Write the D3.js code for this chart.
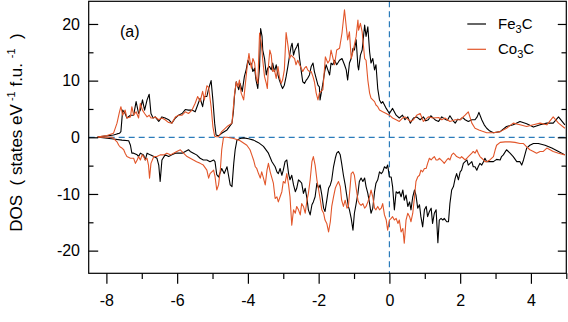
<!DOCTYPE html>
<html><head><meta charset="utf-8">
<script src="https://cdn.jsdelivr.net/npm/d3@7"></script>
<style>
body{margin:0;background:#fff;}
svg{display:block;font-family:"Liberation Sans",Arial,Helvetica,sans-serif;}
</style></head>
<body><svg id="c" width="568" height="322"></svg>
<script>
const xMajor=[-8,-6,-4,-2,0,2,4];
const xMinor=[-7,-5,-3,-1,1,3,5];
const yMajor=[-20,-10,0,10,20];
const yMinor=[-15,-5,5,15];
const seriesNames=["Fe3C","Co3C"];
const seriesColors=["#000000","#e2562a"];

const fe3cUp=[[-8.25,0],[-8.22,0.1],[-7.98,0.25],[-7.80,0.4],[-7.70,0.6],[-7.63,0.7],[-7.59,1.0],[-7.54,4.8],[-7.47,4.2],[-7.42,3.4],[-7.32,3.9],[-7.28,3.9],[-7.23,3.9],[-7.16,6.3],[-7.09,4.2],[-7.04,4.8],[-6.98,6.6],[-6.92,4.8],[-6.85,6.6],[-6.79,7.6],[-6.74,4.2],[-6.68,3.4],[-6.62,3.6],[-6.52,2.8],[-6.43,3.6],[-6.34,3.4],[-6.24,3.1],[-6.15,2.5],[-6.05,3.4],[-5.96,3.9],[-5.86,4.2],[-5.77,4.9],[-5.68,4.8],[-5.58,4.8],[-5.49,4.5],[-5.42,5.7],[-5.35,6.9],[-5.28,5.4],[-5.23,7.2],[-5.16,7.2],[-5.11,8.6],[-5.04,10.0],[-4.99,6.6],[-4.94,2.5],[-4.90,0.4],[-4.83,0.25],[-4.74,0.7],[-4.59,1.3],[-4.45,2.5],[-4.41,4.5],[-4.38,7.2],[-4.33,9.8],[-4.26,8.4],[-4.22,9.5],[-4.16,8.1],[-4.10,10.7],[-4.05,11.9],[-4.00,13.6],[-3.95,12.8],[-3.91,13.1],[-3.86,11.6],[-3.81,12.2],[-3.77,10.1],[-3.72,8.6],[-3.67,12.5],[-3.64,19.2],[-3.60,17.8],[-3.58,15.4],[-3.53,13.9],[-3.48,11.0],[-3.44,12.2],[-3.39,12.5],[-3.34,11.9],[-3.30,13.1],[-3.25,11.6],[-3.20,12.8],[-3.15,11.0],[-3.11,10.1],[-3.06,9.2],[-3.02,8.6],[-2.97,9.2],[-2.92,10.7],[-2.87,12.5],[-2.82,14.5],[-2.78,16.0],[-2.75,16.6],[-2.71,14.5],[-2.67,15.4],[-2.62,16.0],[-2.58,16.6],[-2.54,13.9],[-2.49,11.6],[-2.45,9.8],[-2.40,9.5],[-2.35,10.1],[-2.31,10.4],[-2.26,11.0],[-2.21,12.5],[-2.16,13.1],[-2.12,11.6],[-2.07,10.4],[-2.02,9.2],[-1.98,8.9],[-1.96,6.6],[-1.88,9.5],[-1.83,11.6],[-1.79,12.8],[-1.74,11.9],[-1.69,11.0],[-1.65,13.1],[-1.60,12.8],[-1.55,13.6],[-1.49,12.8],[-1.41,13.6],[-1.34,13.9],[-1.27,12.8],[-1.22,11.9],[-1.18,10.1],[-1.13,13.1],[-1.08,13.9],[-1.03,15.7],[-0.99,15.4],[-0.94,17.2],[-0.89,12.5],[-0.87,11.9],[-0.82,14.5],[-0.77,15.4],[-0.70,19.8],[-0.66,17.8],[-0.61,19.5],[-0.56,15.1],[-0.52,13.1],[-0.47,13.9],[-0.42,11.9],[-0.38,12.8],[-0.33,8.6],[-0.28,6.6],[-0.23,6.0],[-0.19,6.3],[-0.09,5.1],[0.0,4.2],[0.09,5.1],[0.19,3.9],[0.28,3.4],[0.37,3.9],[0.44,3.1],[0.52,3.6],[0.59,2.5],[0.68,3.4],[0.77,3.6],[0.87,3.1],[0.96,3.6],[1.03,2.9],[1.10,3.1],[1.17,3.8],[1.24,3.4],[1.31,3.0],[1.39,2.8],[1.48,3.6],[1.57,3.2],[1.64,3.0],[1.71,3.8],[1.79,3.0],[1.86,2.5],[1.93,3.2],[2.00,3.1],[2.07,3.5],[2.14,3.1],[2.23,2.8],[2.33,3.1],[2.42,3.1],[2.48,3.6],[2.53,4.4],[2.61,3.1],[2.68,2.2],[2.75,1.6],[2.84,1.1],[2.94,0.8],[3.13,1.0],[3.31,1.9],[3.50,2.2],[3.69,2.8],[3.88,2.4],[4.07,1.8],[4.26,2.2],[4.45,2.5],[4.63,2.5],[4.78,3.6],[4.96,2.2]];

const co3cUp=[[-8.25,0],[-8.22,0.1],[-7.98,0.3],[-7.80,0.7],[-7.70,2.5],[-7.63,4.5],[-7.59,5.4],[-7.54,3.9],[-7.47,4.8],[-7.42,3.4],[-7.32,3.6],[-7.28,5.4],[-7.23,3.9],[-7.16,4.5],[-7.09,3.4],[-7.04,6.0],[-6.98,4.8],[-6.92,4.2],[-6.85,3.6],[-6.79,3.9],[-6.74,3.4],[-6.68,3.4],[-6.62,3.6],[-6.52,3.1],[-6.43,3.4],[-6.34,3.1],[-6.24,2.6],[-6.15,2.5],[-6.05,3.6],[-5.96,3.9],[-5.86,3.9],[-5.77,4.5],[-5.68,4.2],[-5.58,4.8],[-5.49,6.0],[-5.42,7.2],[-5.35,6.3],[-5.28,8.1],[-5.23,6.6],[-5.16,9.1],[-5.11,8.8],[-5.04,5.4],[-4.99,1.9],[-4.94,0.2],[-4.90,0.1],[-4.83,0.1],[-4.74,1.0],[-4.59,1.9],[-4.45,2.5],[-4.38,7.5],[-4.33,9.8],[-4.28,8.9],[-4.24,10.1],[-4.19,7.8],[-4.12,6.6],[-4.07,9.5],[-4.02,12.5],[-3.97,14.8],[-3.94,13.4],[-3.90,12.2],[-3.86,13.9],[-3.81,13.1],[-3.77,10.7],[-3.72,9.5],[-3.67,18.4],[-3.62,16.6],[-3.58,13.6],[-3.53,10.7],[-3.48,9.5],[-3.45,8.6],[-3.42,12.5],[-3.38,15.4],[-3.34,14.5],[-3.30,11.6],[-3.25,11.9],[-3.20,10.4],[-3.15,12.5],[-3.11,10.7],[-3.06,9.5],[-3.02,10.1],[-2.97,11.9],[-2.92,18.5],[-2.87,16.3],[-2.82,13.9],[-2.78,14.5],[-2.73,14.2],[-2.68,13.9],[-2.64,12.8],[-2.59,13.6],[-2.54,12.8],[-2.49,12.2],[-2.45,11.6],[-2.40,12.2],[-2.35,12.5],[-2.31,11.9],[-2.26,11.6],[-2.21,11.6],[-2.16,10.7],[-2.12,9.8],[-2.07,7.8],[-2.02,6.6],[-1.98,7.8],[-1.88,8.4],[-1.81,14.2],[-1.74,13.1],[-1.69,13.6],[-1.65,15.4],[-1.55,12.8],[-1.49,15.4],[-1.41,15.7],[-1.34,18.4],[-1.27,22.5],[-1.22,19.5],[-1.18,17.2],[-1.13,18.6],[-1.08,13.9],[-1.03,15.1],[-0.94,17.8],[-0.89,20.7],[-0.87,18.9],[-0.82,20.1],[-0.77,18.6],[-0.70,13.9],[-0.66,13.6],[-0.61,10.1],[-0.56,7.8],[-0.52,6.9],[-0.47,6.6],[-0.42,6.3],[-0.38,5.7],[-0.33,5.4],[-0.28,4.8],[-0.19,4.5],[-0.09,4.2],[0.0,3.9],[0.09,3.4],[0.19,3.1],[0.28,2.8],[0.37,3.4],[0.44,3.6],[0.52,3.2],[0.59,2.8],[0.68,3.1],[0.77,3.9],[0.87,4.2],[0.96,2.8],[1.10,3.6],[1.24,3.4],[1.39,3.5],[1.48,3.1],[1.57,3.4],[1.71,2.8],[1.86,3.1],[2.00,3.1],[2.14,3.9],[2.23,4.5],[2.33,2.5],[2.42,1.6],[2.53,1.3],[2.61,1.1],[2.75,0.8],[2.94,0.8],[3.13,1.0],[3.31,1.6],[3.50,2.5],[3.69,2.2],[3.88,1.9],[4.07,2.2],[4.26,2.5],[4.45,2.2],[4.63,3.6],[4.78,2.5],[4.96,1.6]];

const fe3cDown=[[-8.25,0],[-8.22,0],[-7.80,-0.3],[-7.56,-0.5],[-7.37,-0.6],[-7.32,-1.4],[-7.28,-2.8],[-7.23,-2.8],[-7.13,-3.1],[-7.09,-3.4],[-7.04,-2.8],[-6.95,-3.1],[-6.90,-4.0],[-6.85,-2.8],[-6.76,-3.1],[-6.66,-3.4],[-6.57,-3.7],[-6.52,-4.9],[-6.48,-7.8],[-6.43,-4.0],[-6.34,-3.1],[-6.24,-3.4],[-6.15,-3.1],[-6.05,-2.8],[-5.96,-2.8],[-5.86,-2.8],[-5.77,-2.5],[-5.68,-2.2],[-5.63,-2.5],[-5.54,-2.8],[-5.45,-3.1],[-5.35,-3.7],[-5.26,-4.0],[-5.16,-4.0],[-5.07,-4.3],[-4.97,-4.0],[-4.93,-4.3],[-4.88,-6.6],[-4.83,-7.0],[-4.74,-5.5],[-4.67,-6.4],[-4.59,-5.2],[-4.50,-8.4],[-4.45,-8.7],[-4.40,-4.6],[-4.36,-2.2],[-4.31,-0.5],[-4.22,-0.2],[-4.12,-0.1],[-3.98,-0.25],[-3.84,-0.5],[-3.70,-0.95],[-3.56,-1.6],[-3.42,-2.8],[-3.32,-4.3],[-3.23,-5.2],[-3.18,-6.1],[-3.14,-6.4],[-3.09,-5.5],[-3.04,-6.7],[-3.00,-5.8],[-2.95,-4.3],[-2.90,-4.0],[-2.85,-6.4],[-2.81,-7.5],[-2.76,-6.7],[-2.71,-8.4],[-2.66,-9.6],[-2.62,-9.0],[-2.57,-7.5],[-2.52,-7.8],[-2.48,-8.1],[-2.43,-9.9],[-2.38,-9.0],[-2.33,-10.8],[-2.29,-12.8],[-2.24,-13.7],[-2.19,-11.9],[-2.15,-11.4],[-2.10,-10.5],[-2.05,-8.1],[-2.00,-9.0],[-1.96,-8.4],[-1.91,-10.2],[-1.86,-12.5],[-1.82,-13.1],[-1.77,-11.1],[-1.72,-9.0],[-1.67,-8.4],[-1.63,-7.5],[-1.58,-5.2],[-1.53,-3.7],[-1.49,-2.8],[-1.44,-2.5],[-1.39,-3.1],[-1.35,-4.6],[-1.30,-6.7],[-1.25,-8.4],[-1.20,-10.5],[-1.16,-12.2],[-1.13,-12.8],[-1.08,-14.3],[-1.03,-16.4],[-0.99,-13.4],[-0.94,-11.7],[-0.89,-9.9],[-0.85,-7.8],[-0.80,-7.2],[-0.75,-7.8],[-0.70,-7.2],[-0.66,-8.7],[-0.61,-9.9],[-0.56,-11.7],[-0.52,-13.4],[-0.47,-12.5],[-0.42,-9.6],[-0.38,-8.1],[-0.33,-7.5],[-0.28,-6.1],[-0.23,-6.4],[-0.19,-6.1],[-0.14,-5.2],[-0.09,-5.5],[-0.05,-4.9],[0.00,-7.0],[0.05,-7.0],[0.09,-8.7],[0.14,-12.8],[0.19,-9.6],[0.24,-9.9],[0.28,-9.6],[0.33,-10.5],[0.38,-9.3],[0.42,-11.1],[0.47,-10.2],[0.52,-12.2],[0.57,-11.4],[0.61,-12.8],[0.66,-10.5],[0.71,-9.3],[0.75,-10.2],[0.80,-12.5],[0.85,-11.9],[0.89,-14.0],[0.94,-15.8],[0.99,-12.8],[1.04,-12.2],[1.08,-14.0],[1.13,-13.1],[1.18,-12.5],[1.22,-15.2],[1.27,-13.4],[1.32,-12.8],[1.37,-18.6],[1.41,-14.6],[1.46,-14.3],[1.51,-14.6],[1.55,-14.3],[1.62,-14.9],[1.67,-14.9],[1.71,-11.7],[1.76,-9.3],[1.81,-8.7],[1.86,-7.2],[1.90,-6.4],[1.95,-7.5],[2.00,-6.1],[2.04,-5.8],[2.09,-4.6],[2.14,-4.3],[2.19,-4.0],[2.23,-4.9],[2.28,-4.6],[2.33,-4.3],[2.37,-5.2],[2.42,-5.2],[2.47,-5.8],[2.51,-5.2],[2.56,-4.6],[2.61,-4.9],[2.66,-4.3],[2.70,-3.7],[2.75,-4.3],[2.84,-4.3],[2.94,-4.3],[3.03,-3.9],[3.13,-4.0],[3.17,-3.4],[3.22,-3.1],[3.31,-2.2],[3.41,-2.8],[3.50,-3.4],[3.60,-4.3],[3.69,-4.3],[3.74,-4.9],[3.79,-4.0],[3.88,-1.9],[3.97,-1.4],[4.07,-1.1],[4.21,-1.1],[4.40,-1.4],[4.59,-1.9],[4.78,-2.5],[4.96,-3.1]];

const co3cDown=[[-8.25,0],[-8.22,0],[-7.84,0],[-7.80,-0.2],[-7.70,-0.8],[-7.65,-1.4],[-7.61,-1.7],[-7.56,-1.9],[-7.51,-2.2],[-7.47,-2.8],[-7.42,-3.4],[-7.32,-3.7],[-7.23,-3.7],[-7.18,-4.6],[-7.13,-4.0],[-7.09,-3.4],[-7.04,-4.0],[-6.99,-3.1],[-6.95,-3.4],[-6.90,-4.0],[-6.85,-3.7],[-6.81,-4.9],[-6.78,-7.2],[-6.74,-4.6],[-6.66,-3.4],[-6.57,-3.4],[-6.48,-3.1],[-6.38,-3.1],[-6.29,-2.8],[-6.19,-3.1],[-6.10,-2.8],[-6.01,-2.5],[-5.91,-2.2],[-5.82,-2.8],[-5.72,-3.4],[-5.63,-3.7],[-5.54,-4.0],[-5.45,-4.3],[-5.35,-4.6],[-5.26,-4.9],[-5.16,-5.8],[-5.11,-7.2],[-5.07,-6.4],[-5.02,-6.1],[-4.97,-5.8],[-4.93,-6.9],[-4.88,-9.3],[-4.83,-8.4],[-4.78,-5.8],[-4.74,-2.2],[-4.69,0],[-4.59,0],[-4.40,-0.2],[-4.22,-0.6],[-4.03,-1.4],[-3.94,-2.2],[-3.89,-3.1],[-3.84,-4.0],[-3.79,-5.2],[-3.75,-5.5],[-3.70,-6.4],[-3.65,-7.2],[-3.61,-6.1],[-3.56,-7.2],[-3.51,-8.4],[-3.46,-5.8],[-3.42,-4.6],[-3.37,-6.1],[-3.32,-7.2],[-3.28,-8.1],[-3.23,-10.8],[-3.18,-10.5],[-3.14,-11.4],[-3.09,-10.5],[-3.04,-9.6],[-3.00,-7.8],[-2.95,-8.1],[-2.90,-6.4],[-2.85,-8.4],[-2.81,-10.5],[-2.76,-15.5],[-2.71,-12.8],[-2.66,-13.4],[-2.62,-12.2],[-2.57,-12.8],[-2.52,-13.7],[-2.48,-11.7],[-2.43,-12.2],[-2.38,-13.4],[-2.33,-11.1],[-2.29,-9.9],[-2.24,-7.5],[-2.19,-4.3],[-2.15,-3.4],[-2.10,-4.9],[-2.05,-7.5],[-2.00,-9.3],[-1.96,-10.8],[-1.91,-12.8],[-1.86,-13.4],[-1.82,-14.6],[-1.77,-15.2],[-1.72,-16.7],[-1.67,-14.9],[-1.63,-12.2],[-1.58,-10.5],[-1.53,-9.0],[-1.49,-8.4],[-1.44,-7.8],[-1.39,-8.7],[-1.35,-11.1],[-1.30,-12.2],[-1.25,-11.1],[-1.20,-12.5],[-1.16,-12.2],[-1.11,-8.7],[-1.08,-6.4],[-1.03,-6.1],[-0.99,-6.7],[-0.94,-9.0],[-0.89,-11.1],[-0.85,-11.7],[-0.80,-12.0],[-0.75,-11.7],[-0.70,-12.5],[-0.66,-12.2],[-0.61,-11.4],[-0.56,-10.5],[-0.52,-9.3],[-0.47,-10.5],[-0.42,-12.5],[-0.38,-12.8],[-0.33,-12.2],[-0.28,-12.8],[-0.23,-12.5],[-0.19,-11.7],[-0.14,-13.7],[-0.09,-14.6],[-0.05,-16.4],[0.00,-14.6],[0.05,-14.3],[0.09,-14.0],[0.14,-14.6],[0.19,-14.3],[0.24,-15.2],[0.28,-14.6],[0.33,-16.7],[0.38,-16.1],[0.42,-18.7],[0.47,-14.6],[0.52,-13.4],[0.57,-14.0],[0.61,-14.9],[0.66,-13.4],[0.71,-10.5],[0.75,-7.8],[0.80,-7.0],[0.85,-6.7],[0.89,-5.8],[0.94,-6.1],[0.99,-5.5],[1.04,-5.5],[1.08,-4.6],[1.13,-3.7],[1.18,-4.0],[1.22,-3.7],[1.27,-3.4],[1.32,-4.0],[1.37,-4.0],[1.41,-3.7],[1.46,-4.0],[1.51,-4.3],[1.55,-4.6],[1.62,-4.0],[1.67,-3.7],[1.71,-4.0],[1.76,-3.1],[1.81,-2.8],[1.86,-3.1],[1.90,-3.4],[2.00,-3.7],[2.04,-3.4],[2.09,-3.7],[2.14,-4.0],[2.19,-3.7],[2.23,-3.4],[2.28,-3.1],[2.33,-2.8],[2.37,-2.5],[2.42,-2.8],[2.47,-2.2],[2.51,-2.8],[2.56,-3.4],[2.61,-3.7],[2.66,-4.0],[2.70,-4.3],[2.75,-4.3],[2.84,-4.0],[2.94,-3.4],[2.99,-2.2],[3.03,-1.4],[3.13,-0.9],[3.27,-0.8],[3.41,-0.8],[3.55,-0.9],[3.69,-1.1],[3.79,-1.1],[3.88,-1.7],[3.97,-2.2],[4.07,-2.5],[4.16,-2.8],[4.26,-2.5],[4.35,-2.5],[4.45,-1.9],[4.54,-2.2],[4.63,-2.5],[4.78,-2.8],[4.96,-3.1]];

const svg=d3.select("#c");
const L=88.7,R=566.3,T=1.3,B=273.3;
const x=d3.scaleLinear().domain([-8.5,5]).range([L,R]);
const y=d3.scaleLinear().domain([-24,24]).range([B,T]);
const FONT="Liberation Sans, Arial, Helvetica, sans-serif";
const blue="#2b7bba";

svg.append("clipPath").attr("id","clip").append("rect")
  .attr("x",L).attr("y",T).attr("width",R-L).attr("height",B-T);

// dashed reference lines
svg.append("line").attr("x1",L).attr("x2",R).attr("y1",y(0)).attr("y2",y(0))
  .attr("stroke",blue).attr("stroke-width",1.2).attr("stroke-dasharray","6,4");
svg.append("line").attr("x1",x(0)).attr("x2",x(0)).attr("y1",T).attr("y2",B)
  .attr("stroke",blue).attr("stroke-width",1.2).attr("stroke-dasharray","6,4");

const line=d3.line().x(d=>x(d[0])).y(d=>y(d[1]));
const g=svg.append("g").attr("clip-path","url(#clip)");
[[fe3cUp,0],[fe3cDown,0],[co3cUp,1],[co3cDown,1]].forEach(([data,i])=>{
  g.append("path").datum(data).attr("d",line).attr("fill","none")
   .attr("stroke",seriesColors[i]).attr("stroke-width",1.1).attr("stroke-linejoin","round");
});

// axes
const xAxis=svg.append("g").attr("transform",`translate(0,${B})`)
  .call(d3.axisBottom(x).tickValues(xMajor).tickSize(10.5).tickPadding(11).tickFormat(d=>String(d)));
const xAxisMinor=svg.append("g").attr("transform",`translate(0,${B})`)
  .call(d3.axisBottom(x).tickValues(xMinor).tickSize(5.7).tickFormat(""));
const yAxis=svg.append("g").attr("transform",`translate(${L},0)`)
  .call(d3.axisLeft(y).tickValues(yMajor).tickSize(-9.5).tickPadding(8.7).tickFormat(d=>String(d)));
const yAxisMinor=svg.append("g").attr("transform",`translate(${L},0)`)
  .call(d3.axisLeft(y).tickValues(yMinor).tickSize(-4.8).tickFormat(""));
const yAxisR=svg.append("g").attr("transform",`translate(${R},0)`)
  .call(d3.axisRight(y).tickValues(yMajor).tickSize(-8.5).tickFormat(""));
const yAxisRMinor=svg.append("g").attr("transform",`translate(${R},0)`)
  .call(d3.axisRight(y).tickValues(yMinor).tickSize(-4.8).tickFormat(""));
[xAxis,xAxisMinor,yAxis,yAxisMinor,yAxisR,yAxisRMinor].forEach(a=>{
  a.select(".domain").remove();
  a.selectAll("line").attr("stroke","#000").attr("stroke-width",1.2);
  a.selectAll("text").attr("font-family",FONT).attr("font-size",16).attr("fill","#000");
});

// frame
svg.append("rect").attr("x",L).attr("y",T).attr("width",R-L).attr("height",B-T)
  .attr("fill","none").attr("stroke","#000").attr("stroke-width",1.2);

// y title
const yt=svg.append("text").attr("transform","translate(21.5,132.5) rotate(-90)")
  .attr("text-anchor","middle").attr("font-family",FONT).attr("font-size",17)
  .attr("xml:space","preserve").attr("fill","#000");
yt.append("tspan").text("DOS  ( states eV");
yt.append("tspan").attr("dy",-7).attr("font-size",11).text(" -1");
yt.append("tspan").attr("dy",7).text(" f.u. ");
yt.append("tspan").attr("dy",-7).attr("font-size",11).text("-1");
yt.append("tspan").attr("dy",7).text("  )");

// panel label
svg.append("text").attr("x",120).attr("y",36.7).attr("font-family",FONT)
  .attr("font-size",16).attr("fill","#000").text("(a)");

// legend
const legY=[24,49.3];
seriesNames.forEach((nm,i)=>{
  svg.append("line").attr("x1",467.3).attr("x2",486).attr("y1",legY[i]).attr("y2",legY[i])
    .attr("stroke",seriesColors[i]).attr("stroke-width",1.2);
  const t=svg.append("text").attr("x",498).attr("y",legY[i]+4.5)
    .attr("font-family",FONT).attr("font-size",15).attr("fill","#000");
  t.append("tspan").text(nm.slice(0,2));
  t.append("tspan").attr("dy",4).attr("font-size",11).text(nm.slice(2,3));
  t.append("tspan").attr("dy",-4).text(nm.slice(3));
});
</script></body></html>
